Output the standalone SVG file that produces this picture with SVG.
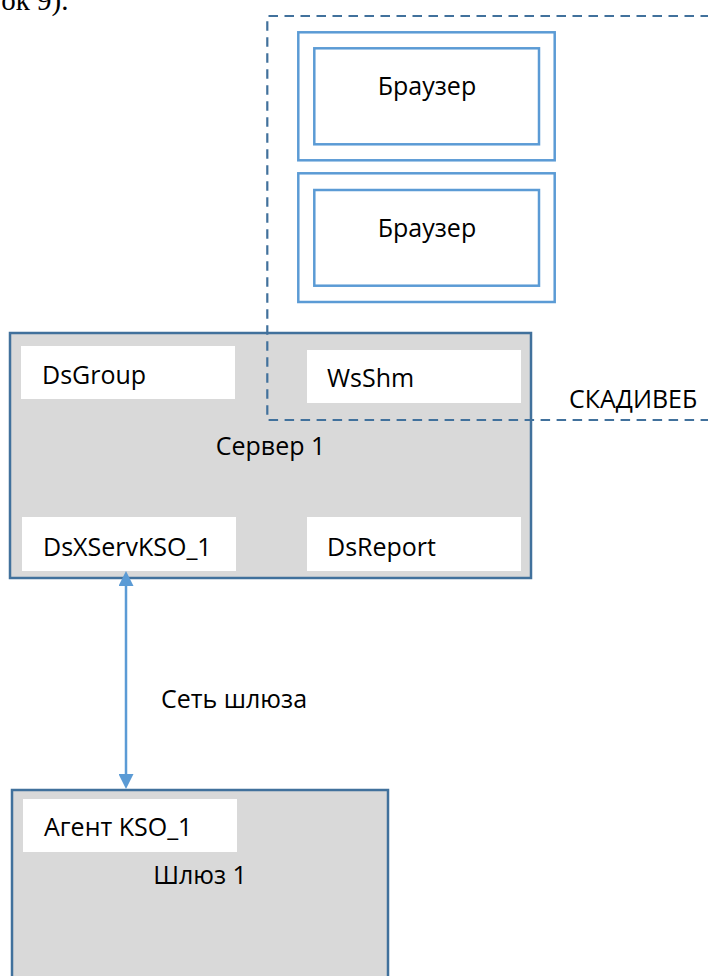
<svg xmlns="http://www.w3.org/2000/svg" width="708" height="976" viewBox="0 0 708 976">
  <style>
    .lbl { font-family: "Open Sans", "Noto Sans", sans-serif; font-size: 25px; fill: #000; }
    .mid { text-anchor: middle; }
    .host { fill: #D9D9D9; stroke: #41719C; stroke-width: 2.5; }
    .slot { fill: #FFFFFF; stroke: none; }
    .frame { fill: #FFFFFF; stroke: #5B9BD5; stroke-width: 2.5; }
    .zone { fill: none; stroke: #41719C; stroke-width: 2.2; stroke-dasharray: 9.5 6.5; }
    .link { stroke: #5B9BD5; stroke-width: 2.5; fill: none; }
  </style>
  <defs>
    <marker id="tip" viewBox="0 0 15 15" refX="0" refY="7.5" markerWidth="15" markerHeight="15" markerUnits="userSpaceOnUse" orient="auto-start-reverse">
      <path d="M0,0 L15,7.5 L0,15 z" fill="#5B9BD5"/>
    </marker>
  </defs>

  <rect width="708" height="976" fill="#FFFFFF"/>

  <!-- tail of the preceding paragraph -->
  <text x="68.5" y="10" text-anchor="end" font-family="'Liberation Serif', serif" font-size="29px" fill="#000">ок 9).</text>

  <!-- browser clients -->
  <g id="browser1">
    <rect class="frame" x="298.3" y="32.3" width="256.4" height="128"/>
    <rect class="frame" x="314.3" y="48.3" width="224.7" height="96"/>
    <text class="lbl mid" x="427" y="95">Браузер</text>
  </g>
  <g id="browser2">
    <rect class="frame" x="298.3" y="173.3" width="256.4" height="128.7"/>
    <rect class="frame" x="314.3" y="190" width="224.7" height="95.7"/>
    <text class="lbl mid" x="427" y="237">Браузер</text>
  </g>

  <!-- server 1 with its processes -->
  <g id="server1">
    <rect class="host" x="10" y="333" width="521" height="245"/>
    <text class="lbl mid" x="270.5" y="455">Сервер 1</text>
  </g>
  <g id="dsgroup">
    <rect class="slot" x="21" y="346" width="214" height="53"/>
    <text class="lbl" x="42" y="384">DsGroup</text>
  </g>
  <g id="wsshm">
    <rect class="slot" x="307" y="350" width="214" height="53"/>
    <text class="lbl" x="327" y="387">WsShm</text>
  </g>
  <g id="dsxservkso1">
    <rect class="slot" x="22" y="517" width="214" height="54"/>
    <text class="lbl" x="43" y="556">DsXServKSO_1</text>
  </g>
  <g id="dsreport">
    <rect class="slot" x="307" y="517" width="214" height="54"/>
    <text class="lbl" x="327" y="556">DsReport</text>
  </g>

  <!-- web access zone -->
  <g id="skadiweb">
    <path class="zone" d="M710,16 H267.3 V420 H710"/>
    <text class="lbl" x="569" y="408">СКАДИВЕБ</text>
  </g>

  <!-- gateway 1 -->
  <g id="gateway1">
    <rect class="host" x="12" y="790" width="376" height="200"/>
    <text class="lbl mid" x="200" y="884">Шлюз 1</text>
  </g>
  <g id="agentkso1">
    <rect class="slot" x="23" y="799" width="214" height="53"/>
    <text class="lbl" x="44" y="836">Агент KSO_1</text>
  </g>

  <!-- gateway network link -->
  <g id="connectors">
    <line class="link" x1="126" y1="586" x2="126" y2="774" marker-start="url(#tip)" marker-end="url(#tip)"/>
    <text class="lbl" x="161" y="708">Сеть шлюза</text>
  </g>
</svg>
